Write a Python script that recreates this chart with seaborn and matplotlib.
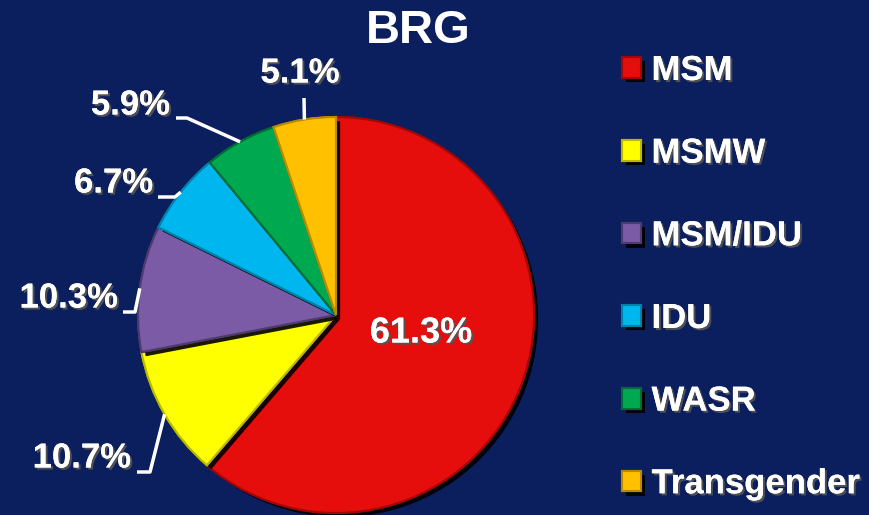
import matplotlib
matplotlib.use('Agg')
import matplotlib.pyplot as plt
import matplotlib.patheffects as pe
import numpy as np
import seaborn as sns

# data
categories = ['MSM', 'MSMW', 'MSM/IDU', 'IDU', 'WASR', 'Transgender']
shares = [61.3, 10.7, 10.3, 6.7, 5.9, 5.1]
pct_labels = ['61.3%', '10.7%', '10.3%', '6.7%', '5.9%', '5.1%']
title = 'BRG'

colors = ['#e60d0d', '#ffff00', '#7b5aa6', '#00b6ef', '#00a84f', '#ffc000']
edge_colors = ['#a00808', '#b8b800', '#4f3a70', '#0080aa', '#006b32', '#b88a00']
bg = '#0b1f5e'

W, H = 869, 515
sns.set_theme(style='white')
plt.rcParams['font.family'] = ['Liberation Sans', 'DejaVu Sans']

fig = plt.figure(figsize=(W / 100, H / 100), dpi=100, facecolor=bg)
ax = fig.add_axes([0, 0, 1, 1])
ax.set_facecolor(bg)


def py(y):
    """Top-down pixel row -> axes y."""
    return H - y


cx, cy, r = 336, py(315), 198
palette = sns.color_palette(colors)
wedges, _ = ax.pie(shares, colors=palette, startangle=90, counterclock=False,
                   center=(cx, cy), radius=r, frame=True,
                   wedgeprops=dict(linewidth=1.5))
for w, ec in zip(wedges, edge_colors):
    w.set_edgecolor(ec)
    w.set_path_effects([pe.withSimplePatchShadow(offset=(3, -3),
                                                 shadow_rgbFace='black',
                                                 alpha=0.9),
                        pe.Normal()])

ax.set_xlim(0, W)
ax.set_ylim(0, H)
ax.set_aspect('equal')
ax.axis('off')

shadow = [pe.withSimplePatchShadow(offset=(1.5, -1.5), shadow_rgbFace='#555555',
                                   alpha=0.9), pe.Normal()]
txt = dict(color='white', fontweight='bold', path_effects=shadow)

# big slice label inside
ax.text(421, py(333), pct_labels[0], fontsize=26, ha='center', va='center', **txt)

# outside labels: text anchor, elbow point, line start (top-down pixels)
label_pos = {1: ((131, 458), (150, 472), (137, 472)),
             2: ((118, 298), (135, 312), (123, 312)),
             3: ((153, 183), (175, 197), (158, 197)),
             4: ((170, 105), (187, 118), (176, 118)),
             5: ((300, 73), (304, 98), (304, 98))}

for i, (tpos, elbow, start) in label_pos.items():
    w = wedges[i]
    mid = np.deg2rad((w.theta1 + w.theta2) / 2)
    ex, ey = cx + r * np.cos(mid), cy + r * np.sin(mid)
    ax.plot([start[0], elbow[0], ex], [py(start[1]), py(elbow[1]), ey],
            color='white', lw=2.5, solid_capstyle='butt', zorder=1)
    ha = 'center' if i == 5 else 'right'
    ax.text(tpos[0], py(tpos[1]), pct_labels[i], fontsize=25, ha=ha,
            va='center', **txt)

ax.text(418, py(31), title, fontsize=34, ha='center', va='center',
        color='white', fontweight='bold')

leg = ax.legend(wedges, categories, loc='upper left',
                bbox_to_anchor=(622 / W, 1 - 54 / H), frameon=False,
                prop=dict(family='Liberation Sans', weight='bold', size=25),
                labelcolor='white', handlelength=0.55, handleheight=0.55,
                handletextpad=0.3, labelspacing=1.43, borderaxespad=0,
                borderpad=0)
for t in leg.get_texts():
    t.set_path_effects(shadow)

fig.savefig('out.png', dpi=100, facecolor=bg)
